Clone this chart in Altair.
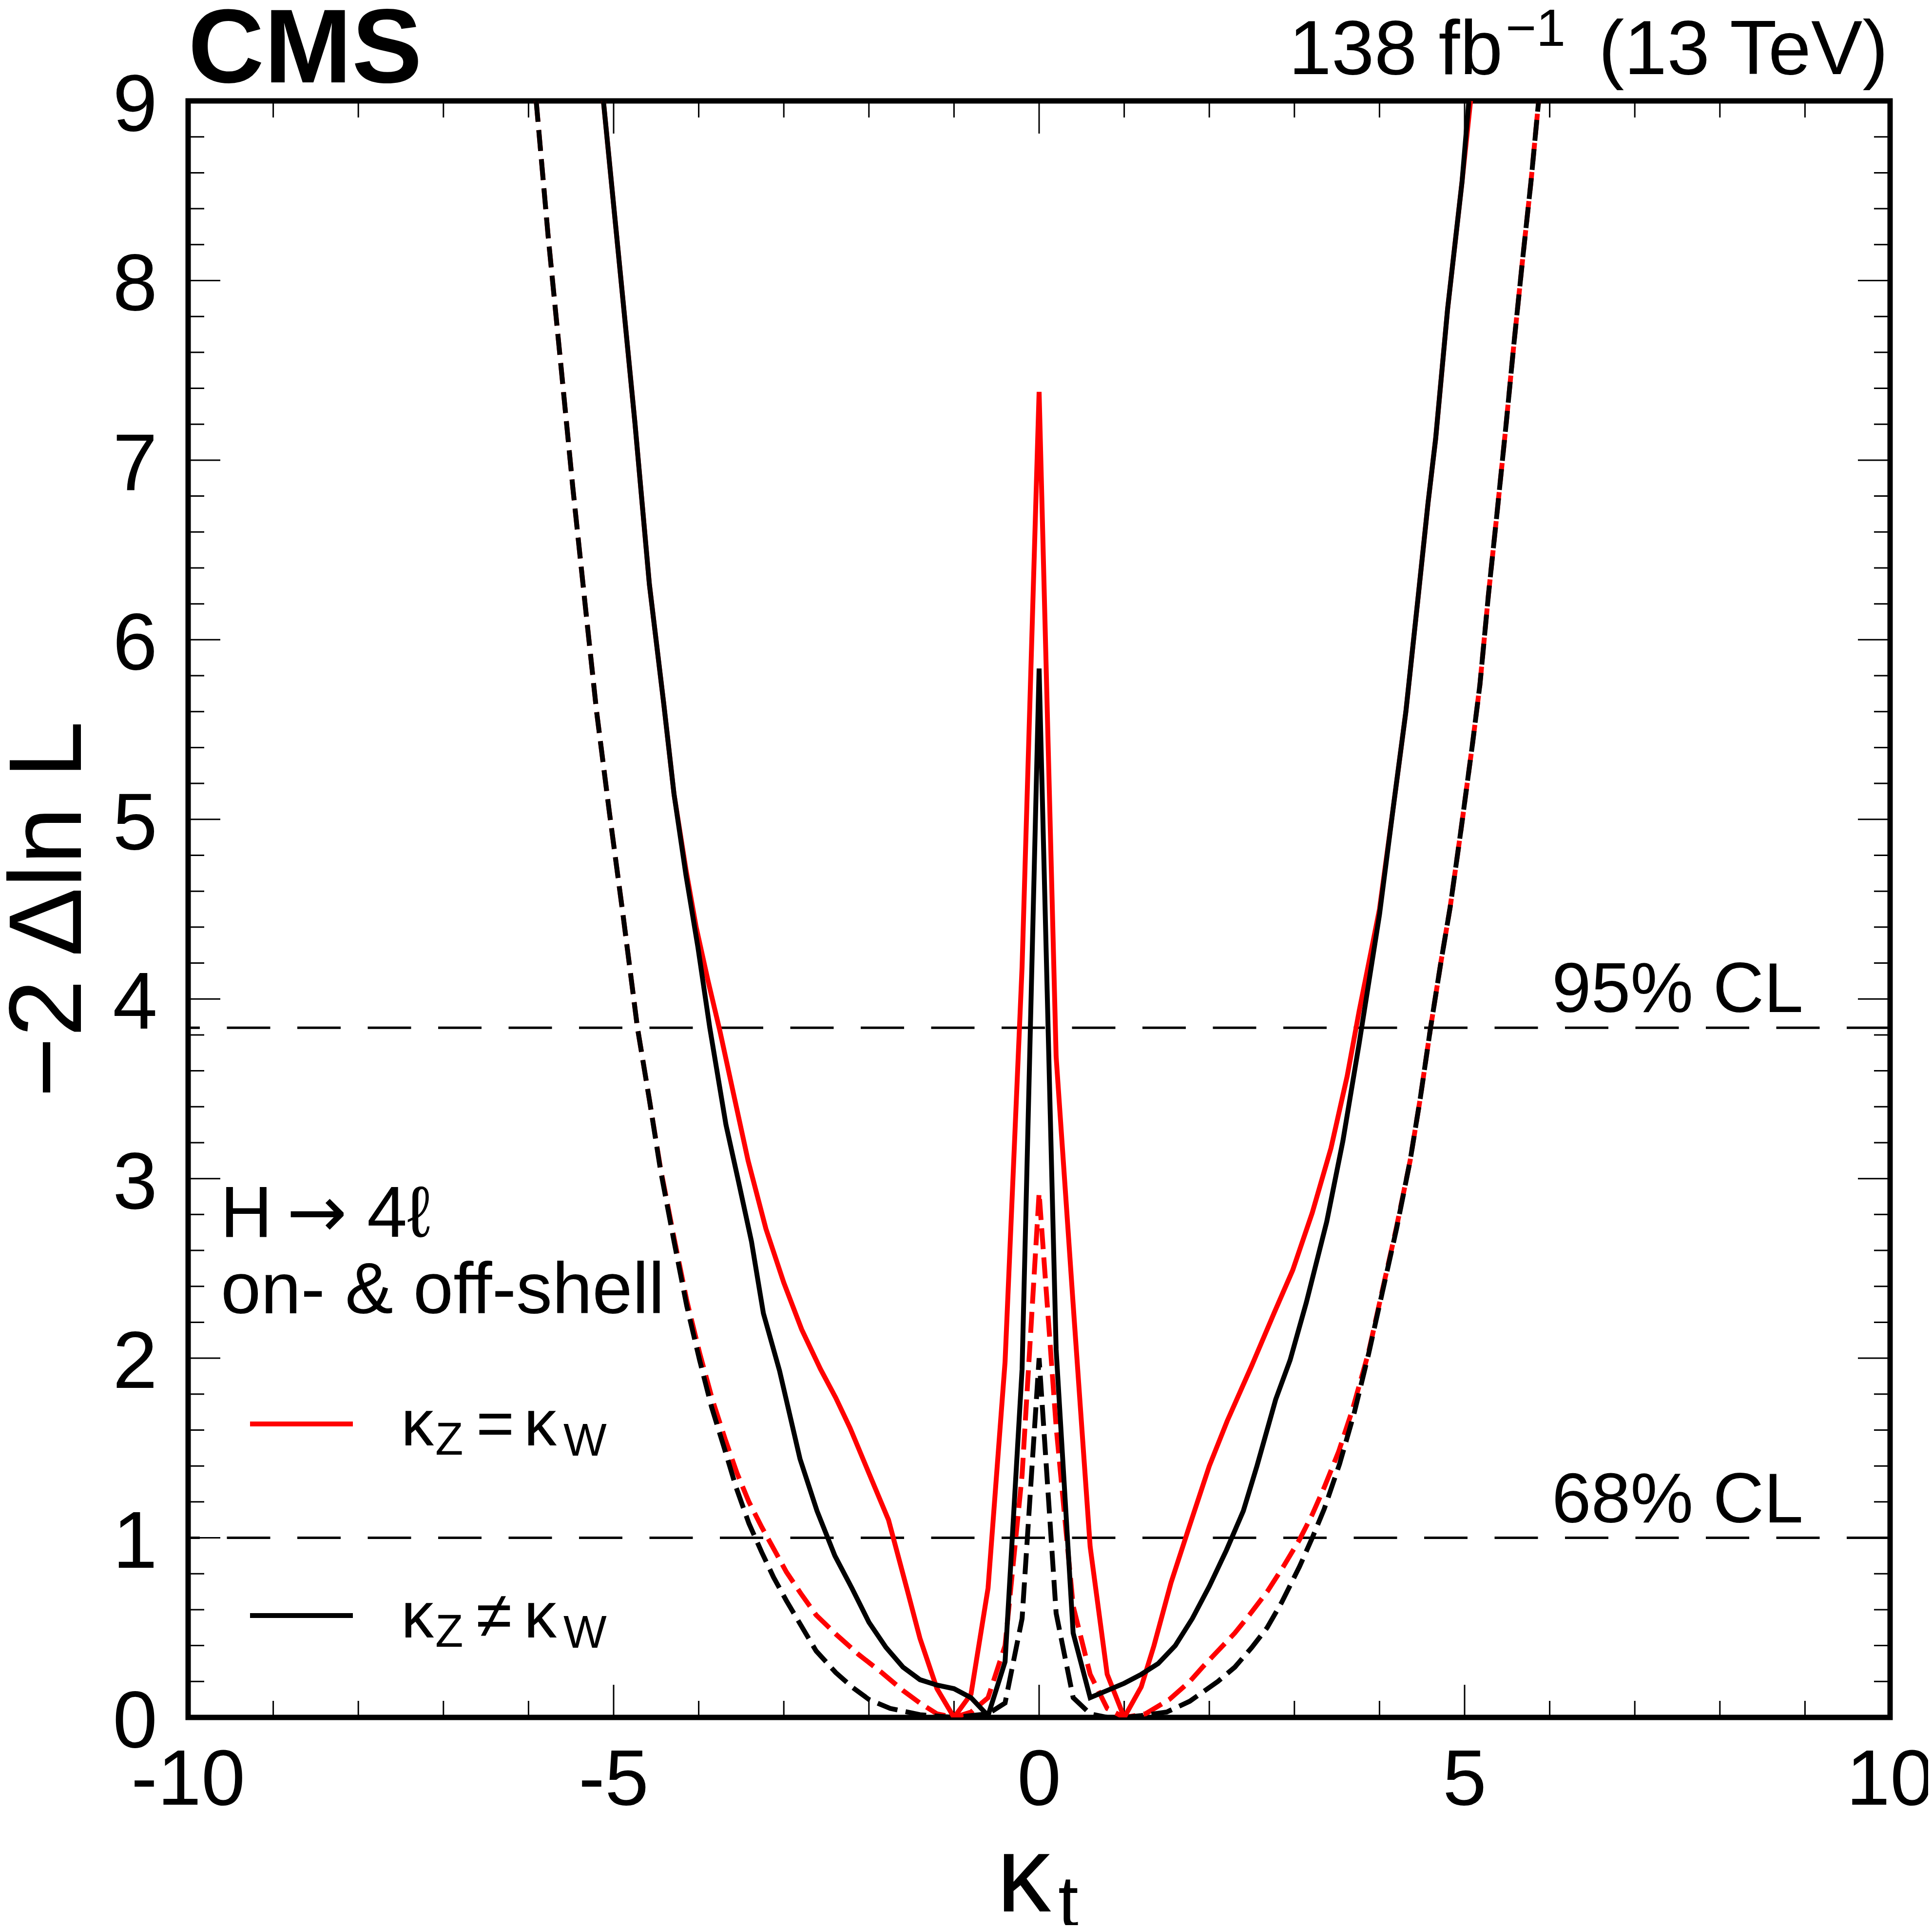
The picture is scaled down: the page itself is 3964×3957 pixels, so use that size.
import altair as alt
import pandas as pd

# ---------------- data ----------------
# kappa_Z != kappa_W, solid (black)
ne_solid = [(-5.12, 9.00), (-4.89, 7.89), (-4.75, 7.21), (-4.58, 6.31), (-4.41, 5.64),
            (-4.29, 5.14), (-4.15, 4.69), (-4.01, 4.29), (-3.87, 3.84), (-3.68, 3.30),
            (-3.54, 3.00), (-3.38, 2.65), (-3.24, 2.25), (-3.05, 1.93), (-2.81, 1.44),
            (-2.61, 1.15), (-2.40, 0.90), (-2.20, 0.72), (-2.00, 0.53), (-1.80, 0.39),
            (-1.60, 0.28), (-1.40, 0.21), (-1.20, 0.18), (-1.00, 0.16), (-0.80, 0.11),
            (-0.60, 0.01), (-0.40, 0.31), (-0.20, 1.94), (0.00, 5.84), (0.20, 2.05),
            (0.40, 0.47), (0.60, 0.11), (0.80, 0.15), (1.00, 0.19), (1.20, 0.24),
            (1.40, 0.30), (1.60, 0.40), (1.80, 0.55), (2.00, 0.73), (2.20, 0.93),
            (2.40, 1.15), (2.56, 1.40), (2.78, 1.77), (2.95, 1.99), (3.14, 2.31),
            (3.38, 2.76), (3.57, 3.21), (3.76, 3.75), (4.00, 4.47), (4.16, 5.06),
            (4.31, 5.60), (4.45, 6.22), (4.57, 6.76), (4.66, 7.12), (4.80, 7.84),
            (4.97, 8.55), (5.05, 9.00)]

# kappa_Z = kappa_W, solid (red)
eq_solid = [(-5.12, 9.00), (-4.89, 7.89), (-4.75, 7.21), (-4.58, 6.31), (-4.41, 5.64),
            (-4.29, 5.14), (-4.15, 4.72), (-4.03, 4.40), (-3.89, 4.10), (-3.75, 3.82),
            (-3.59, 3.47), (-3.42, 3.10), (-3.21, 2.72), (-3.00, 2.42), (-2.79, 2.16),
            (-2.57, 1.94), (-2.39, 1.78), (-2.22, 1.61), (-2.00, 1.36), (-1.77, 1.10),
            (-1.55, 0.71), (-1.40, 0.44), (-1.20, 0.16), (-1.00, 0.00), (-0.80, 0.13),
            (-0.60, 0.72), (-0.40, 1.98), (-0.20, 4.18), (0.00, 7.38), (0.20, 3.68),
            (0.40, 2.30), (0.60, 0.95), (0.80, 0.24), (1.00, 0.00), (1.20, 0.17),
            (1.35, 0.40), (1.55, 0.75), (1.77, 1.07), (2.00, 1.40), (2.21, 1.65),
            (2.50, 1.96), (2.76, 2.25), (2.98, 2.49), (3.21, 2.81), (3.43, 3.17),
            (3.62, 3.57), (3.76, 3.93), (4.00, 4.50), (4.16, 5.06), (4.31, 5.60),
            (4.45, 6.22), (4.57, 6.76), (4.66, 7.12), (4.80, 7.84), (4.97, 8.55),
            (5.07, 9.00)]

# kappa_Z != kappa_W, dashed (black)
ne_dashed = [(-5.91, 9.00), (-5.77, 8.25), (-5.62, 7.53), (-5.48, 6.85), (-5.34, 6.22),
             (-5.20, 5.60), (-5.05, 5.04), (-4.89, 4.47), (-4.72, 3.84), (-4.58, 3.44),
             (-4.45, 3.05), (-4.29, 2.65), (-4.14, 2.29), (-3.99, 1.99), (-3.85, 1.73),
             (-3.70, 1.50), (-3.56, 1.28), (-3.41, 1.08), (-3.26, 0.92), (-3.12, 0.78),
             (-2.97, 0.65), (-2.82, 0.53), (-2.62, 0.37), (-2.39, 0.25), (-2.20, 0.17),
             (-2.00, 0.10), (-1.75, 0.05), (-1.40, 0.015), (-1.00, 0.00), (-0.80, 0.01),
             (-0.60, 0.02), (-0.40, 0.08), (-0.20, 0.55), (0.00, 2.00), (0.20, 0.58),
             (0.40, 0.11), (0.60, 0.02), (0.80, 0.00), (1.00, 0.00), (1.20, 0.01),
             (1.50, 0.03), (1.77, 0.09), (1.92, 0.14), (2.10, 0.20), (2.30, 0.28),
             (2.50, 0.39), (2.68, 0.50), (2.85, 0.64), (3.06, 0.84), (3.21, 1.00),
             (3.35, 1.16), (3.53, 1.41), (3.70, 1.69), (3.87, 2.02), (4.03, 2.36),
             (4.20, 2.72), (4.36, 3.10), (4.48, 3.45), (4.60, 3.84), (4.72, 4.20),
             (4.83, 4.51), (4.96, 4.95), (5.09, 5.41), (5.18, 5.75), (5.28, 6.25),
             (5.38, 6.70), (5.49, 7.21), (5.58, 7.65), (5.68, 8.11), (5.78, 8.55),
             (5.87, 9.00)]

# kappa_Z = kappa_W, dashed (red)
eq_dashed = [(-5.91, 9.00), (-5.77, 8.25), (-5.62, 7.53), (-5.48, 6.85), (-5.34, 6.22),
             (-5.20, 5.60), (-5.05, 5.04), (-4.89, 4.47), (-4.72, 3.84), (-4.58, 3.44),
             (-4.45, 3.06), (-4.29, 2.67), (-4.14, 2.32), (-3.99, 2.03), (-3.84, 1.77),
             (-3.69, 1.55), (-3.55, 1.36), (-3.41, 1.20), (-3.26, 1.06), (-3.12, 0.94),
             (-2.97, 0.81), (-2.80, 0.69), (-2.62, 0.57), (-2.38, 0.46), (-2.12, 0.35),
             (-1.85, 0.25), (-1.60, 0.15), (-1.40, 0.08), (-1.20, 0.02), (-1.00, 0.00),
             (-0.80, 0.03), (-0.60, 0.11), (-0.40, 0.40), (-0.20, 1.35), (0.00, 2.92),
             (0.20, 1.62), (0.40, 0.62), (0.60, 0.24), (0.80, 0.05), (1.00, 0.00),
             (1.25, 0.02), (1.53, 0.10), (1.77, 0.20), (1.92, 0.28), (2.10, 0.37),
             (2.30, 0.47), (2.47, 0.57), (2.68, 0.70), (2.87, 0.84), (3.06, 0.99),
             (3.21, 1.13), (3.35, 1.28), (3.52, 1.48), (3.68, 1.71), (3.87, 2.03),
             (4.03, 2.37), (4.20, 2.73), (4.36, 3.10), (4.48, 3.45), (4.60, 3.84),
             (4.72, 4.20), (4.83, 4.51), (4.96, 4.95), (5.09, 5.41), (5.18, 5.75),
             (5.28, 6.25), (5.38, 6.70), (5.49, 7.21), (5.58, 7.65), (5.68, 8.11),
             (5.78, 8.55), (5.87, 9.00)]

cl_levels = [1.0, 3.84]
cl_labels = ["68% CL", "95% CL"]

x_major = [-10, -5, 0, 5, 10]
x_major_labels = ["-10", "-5", "0", "5", "10"]
x_minor = [v for v in range(-10, 11) if v % 5 != 0]
y_major = [0, 1, 2, 3, 4, 5, 6, 7, 8, 9]
y_major_labels = ["0", "1", "2", "3", "4", "5", "6", "7", "8", "9"]
y_minor = [round(i * 0.2, 1) for i in range(46) if i % 5 != 0]

cms_text = "CMS"
lumi_text = "138 fb"
lumi_sup = "\u22121"
energy_text = "(13 TeV)"
y_title = "\u22122 \u0394ln L"
x_title_main = "\u03ba"
x_title_sub = "t"
proc_parts = ["H", "\u2192", "4\u2113"]
proc_line2 = "on- & off-shell"
leg_kappa = "\u03ba"
leg_sub1 = "Z"
leg_sub2 = "W"
leg_eq = "="
leg_ne = "\u2260"

# ---------------- layout ----------------
F = "Liberation Sans"
W, H = 3492, 3316
XS = alt.Scale(domain=[-10, 10], nice=False, zero=False)
YS = alt.Scale(domain=[0, 9], nice=False, zero=False)
ONE = pd.DataFrame({"k": [0]})
LW = 10


def curve(points, color, dashed):
    df = pd.DataFrame({"x": [p[0] for p in points], "y": [p[1] for p in points],
                       "o": list(range(len(points)))})
    kw = dict(color=color, strokeWidth=LW, clip=True, interpolate="linear")
    if dashed:
        kw["strokeDash"] = [43, 17]
    return alt.Chart(df).mark_line(**kw).encode(
        x=alt.X("x:Q", scale=XS, axis=None),
        y=alt.Y("y:Q", scale=YS, axis=None),
        order="o:Q",
    )


def text(t, x, y, size, align="left", font=F, **kw):
    return alt.Chart(ONE).mark_text(align=align, baseline="alphabetic", fontSize=size,
                                    font=font, color="black", **kw).encode(
        x=alt.value(x), y=alt.value(y), text=alt.value(t))


TW = 3
xmaj_df = pd.DataFrame({"v": x_major, "t": x_major_labels})
xmin_df = pd.DataFrame({"v": x_minor})
ymaj_df = pd.DataFrame({"v": y_major, "t": y_major_labels})
ymin_df = pd.DataFrame({"v": y_minor})


def xrule(df, y0, y1):
    return alt.Chart(df).mark_rule(color="black", strokeWidth=TW).encode(
        x=alt.X("v:Q", scale=XS, axis=None), y=alt.value(y0), y2=alt.value(y1))


def yrule(df, x0, x1):
    return alt.Chart(df).mark_rule(color="black", strokeWidth=TW).encode(
        y=alt.Y("v:Q", scale=YS, axis=None), x=alt.value(x0), x2=alt.value(x1))


ticks = [
    xrule(xmaj_df, H, H - 67), xrule(xmaj_df, 0, 67),
    xrule(xmin_df, H, H - 34), xrule(xmin_df, 0, 34),
    yrule(ymaj_df, 0, 66), yrule(ymaj_df, W, W - 66),
    yrule(ymin_df, 0, 33), yrule(ymin_df, W, W - 33),
]

tick_labels = [
    alt.Chart(xmaj_df).mark_text(align="center", baseline="alphabetic", fontSize=162,
                                 font=F, color="black").encode(
        x=alt.X("v:Q", scale=XS, axis=None), y=alt.value(3495), text="t:N"),
    alt.Chart(ymaj_df).mark_text(align="right", baseline="alphabetic", fontSize=165,
                                 font=F, color="black", dy=61).encode(
        y=alt.Y("v:Q", scale=YS, axis=None), x=alt.value(-63), text="t:N"),
]

cl_df = pd.DataFrame({"y": cl_levels, "t": cl_labels})
cl_lines = alt.Chart(cl_df).mark_rule(color="black", strokeWidth=5,
                                      strokeDash=[89, 55.5]).encode(
    y=alt.Y("y:Q", scale=YS, axis=None))
cl_text = alt.Chart(cl_df).mark_text(align="left", baseline="alphabetic", dy=-32,
                                     fontSize=145, font=F, color="black").encode(
    x=alt.value(2798), y=alt.Y("y:Q", scale=YS, axis=None), text="t:N")

curves = [
    curve(eq_dashed, "#ff0000", True),
    curve(ne_dashed, "#000000", True),
    curve(eq_solid, "#ff0000", False),
    curve(ne_solid, "#000000", False),
]

legend_lines = [
    alt.Chart(ONE).mark_rule(color="#ff0000", strokeWidth=LW).encode(
        x=alt.value(127), x2=alt.value(338), y=alt.value(2714)),
    alt.Chart(ONE).mark_rule(color="#000000", strokeWidth=LW).encode(
        x=alt.value(127), x2=alt.value(338), y=alt.value(3107)),
]

texts = [
    text(cms_text, 0, -38, 216, fontWeight="bold"),
    text(lumi_text, 2258, -55, 158),
    text(lumi_sup, 2703, -113, 108),
    text(energy_text, 3488, -55, 158, align="right"),
    text(y_title, -220, 1658, 212, align="center", angle=270),
    text(x_title_main, 1659, 3714, 222),
    text(x_title_sub, 1785, 3746, 150),
    text(proc_parts[0], 66, 2330, 148),
    text(proc_parts[1], 202, 2330, 148, font="DejaVu Sans"),
    text(proc_parts[2], 367, 2330, 148),
    text(proc_line2, 67, 2487, 148),
    # legend entry 1
    text(leg_kappa, 437, 2758, 134),
    text(leg_sub1, 507, 2777, 94),
    text(leg_eq, 591, 2758, 134),
    text(leg_kappa, 689, 2758, 134),
    text(leg_sub2, 770, 2779, 94),
    # legend entry 2
    text(leg_kappa, 437, 3152, 134),
    text(leg_sub1, 507, 3171, 94),
    text(leg_ne, 591, 3152, 134),
    text(leg_kappa, 689, 3152, 134),
    text(leg_sub2, 770, 3173, 94),
]

chart = alt.layer(*ticks, *tick_labels, cl_lines, cl_text, *curves, *legend_lines,
                  *texts).properties(
    width=W, height=H,
    autosize=alt.AutoSizeParams(type="none"),
    padding={"left": 378, "top": 199, "right": 78, "bottom": 426},
    background="white",
).configure_view(stroke="black", strokeWidth=11)

chart.save("out.html", embed_options={"renderer": "svg", "actions": False})
